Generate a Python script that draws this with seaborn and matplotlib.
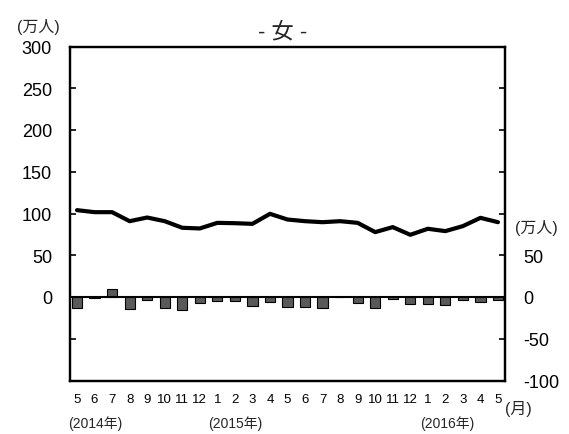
import matplotlib
matplotlib.use("Agg")
import matplotlib.pyplot as plt
import seaborn as sns
import pandas as pd
from matplotlib.ticker import FuncFormatter

# 2014年5月 ～ 2016年5月
months = ["5", "6", "7", "8", "9", "10", "11", "12",
          "1", "2", "3", "4", "5", "6", "7", "8", "9", "10", "11", "12",
          "1", "2", "3", "4", "5"]
# 水準（万人）
level = [104, 101.6, 101.6, 90.8, 95.2, 90.8, 82.9, 82.1, 88.8, 88.4, 87.6, 99.6,
         92.8, 90.8, 89.6, 90.8, 88.8, 77.7, 83.7, 74.5, 81.7, 78.9, 84.9, 94.8, 89.6]
# 前年同月差（万人）
diff = [-13.5, -1.5, 9, -14.7, -3.5, -13.5, -16, -6.8, -4.8, -4.8, -10.8, -5.6,
        -11.6, -11.6, -12.7, 0, -6.8, -13.5, -2, -8.8, -8.8, -10, -3.2, -5.6, -3.2]

sns.set_theme(style="white")
plt.rcParams["font.family"] = ["Liberation Sans", "Noto Sans CJK JP"]
plt.rcParams["axes.unicode_minus"] = False

df = pd.DataFrame({"pos": range(len(months)), "month": months,
                   "level": level, "diff": diff})

W, H = 569, 435
fig = plt.figure(figsize=(W / 100, H / 100), dpi=100)
ax = fig.add_axes([70 / W, 1 - 381.5 / H, 435 / W, 334 / H])

sns.barplot(data=df, x="pos", y="diff", native_scale=True, width=0.58,
            color="#595959", saturation=1, edgecolor="black", linewidth=0.8, ax=ax)
sns.lineplot(data=df, x="pos", y="level", color="black", linewidth=3, ax=ax)
ax.axhline(0, color="black", linewidth=1.5, zorder=5)

ax.set_xlim(-0.4, 24.4)
ax.set_ylim(-100, 300)
ax.set_xlabel("")
ax.set_ylabel("")
ax.set_xticks(df["pos"])
ax.set_xticklabels(months)
ax.set_yticks(range(-100, 301, 50))
ax.yaxis.set_major_formatter(FuncFormatter(lambda v, p: f"{int(v)}" if v >= 0 else ""))
ax.tick_params(axis="x", length=0, pad=9, labelsize=9.5, colors="black")
ax.tick_params(axis="y", direction="in", length=4, width=1.2, pad=13,
               labelsize=13, colors="black", left=True)
for s in ax.spines.values():
    s.set_color("black")
    s.set_linewidth(1.6)

ax2 = ax.twinx()
ax2.set_ylim(-100, 300)
ax2.set_yticks(range(-100, 301, 50))
ax2.yaxis.set_major_formatter(FuncFormatter(lambda v, p: f"{int(v)}" if v <= 50 else ""))
ax2.tick_params(axis="y", direction="in", length=4, width=1.2, pad=13,
                labelsize=13, colors="black", right=True)
for s in ax2.spines.values():
    s.set_color("black")
    s.set_linewidth(1.6)
ax2.grid(False)
ax.grid(False)

fig.text(283 / W, 1 - 33 / H, "- 女 -", ha="center", va="center", fontsize=16)
fig.text(38 / W, 1 - 27 / H, "(万人)", ha="center", va="center", fontsize=11.5)
fig.text(536 / W, 1 - 228 / H, "(万人)", ha="center", va="center", fontsize=11.5)
fig.text(518 / W, 1 - 409 / H, "(月)", ha="center", va="center", fontsize=11.5)
for x, t in [(95, "(2014年)"), (235, "(2015年)"), (447, "(2016年)")]:
    fig.text(x / W, 1 - 424 / H, t, ha="center", va="center", fontsize=10)

fig.savefig("out.png", dpi=100)
